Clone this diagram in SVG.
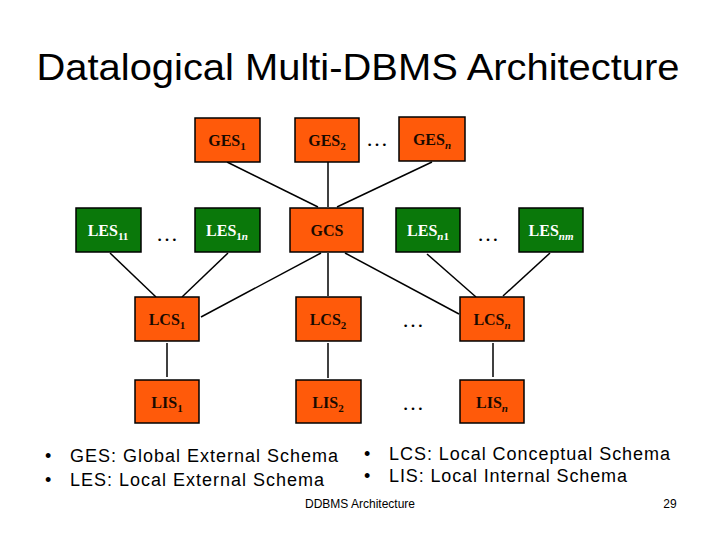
<svg xmlns="http://www.w3.org/2000/svg" width="720" height="540" viewBox="0 0 720 540">
<style>
.o{fill:#ff5a0a;stroke:#000;stroke-width:1.5}
.g{fill:#0a780a;stroke:#000;stroke-width:1.5}
.t{font-family:"Liberation Serif",serif;font-weight:bold;font-size:16px;text-anchor:middle}
.tk{fill:#1a0a00}
.tw{fill:#fff}
.d{font-family:"Liberation Serif",serif;font-size:22px;text-anchor:middle}
.s{font-size:11px}
.it{font-style:italic}
#c line{stroke:#000;stroke-width:1.5}
.b{font-family:"Liberation Sans",Arial,sans-serif;font-size:18px}
</style>
<rect width="720" height="540" fill="#fff"/>
<text x="358" y="80" font-family="Liberation Sans,Arial,sans-serif" font-size="36" text-anchor="middle" textLength="643" lengthAdjust="spacingAndGlyphs">Datalogical Multi-DBMS Architecture</text>
<g id="c">
<line x1="227" y1="162" x2="318" y2="207"/>
<line x1="328" y1="162" x2="328" y2="207"/>
<line x1="432" y1="162" x2="337" y2="207"/>
<line x1="110" y1="253" x2="156" y2="297"/>
<line x1="228" y1="253" x2="182" y2="297"/>
<line x1="321" y1="253" x2="201" y2="317"/>
<line x1="328" y1="253" x2="328" y2="296"/>
<line x1="345" y1="253" x2="459" y2="314"/>
<line x1="427" y1="254" x2="476" y2="297"/>
<line x1="550" y1="253" x2="503" y2="296"/>
<line x1="167" y1="343" x2="167" y2="377"/>
<line x1="328" y1="343" x2="328" y2="378"/>
<line x1="493" y1="343" x2="493" y2="377"/>
</g>
<g id="GES1"><rect class="o" x="195" y="118" width="65" height="44"/><text class="t tk" x="227" y="146">GES<tspan class="s" dy="4">1</tspan></text></g>
<g id="GES2"><rect class="o" x="295" y="118" width="64" height="44"/><text class="t tk" x="327" y="146">GES<tspan class="s" dy="4">2</tspan></text></g>
<text class="d" x="377" y="146">…</text>
<g id="GESn"><rect class="o" x="399" y="117" width="66" height="44"/><text class="t tk" x="432" y="145">GES<tspan class="s it" dy="4">n</tspan></text></g>
<g id="LES11"><rect class="g" x="76" y="208" width="65" height="44"/><text class="t tw" x="108" y="236">LES<tspan class="s" dy="4">11</tspan></text></g>
<text class="d" x="167" y="241">…</text>
<g id="LES1n"><rect class="g" x="195" y="208" width="65" height="44"/><text class="t tw" x="227" y="236">LES<tspan class="s" dy="4">1<tspan class="it">n</tspan></tspan></text></g>
<g id="GCS"><rect class="o" x="290" y="208" width="73" height="44"/><text class="t tk" x="327" y="236">GCS</text></g>
<g id="LESn1"><rect class="g" x="396" y="208" width="64" height="44"/><text class="t tw" x="428" y="236">LES<tspan class="s" dy="4"><tspan class="it">n</tspan>1</tspan></text></g>
<text class="d" x="488" y="241">…</text>
<g id="LESnm"><rect class="g" x="519" y="208" width="64" height="44"/><text class="t tw" x="551" y="236">LES<tspan class="s it" dy="4">nm</tspan></text></g>
<g id="LCS1"><rect class="o" x="135" y="297" width="64" height="44"/><text class="t tk" x="167" y="325">LCS<tspan class="s" dy="4">1</tspan></text></g>
<g id="LCS2"><rect class="o" x="296" y="297" width="65" height="44"/><text class="t tk" x="328" y="325">LCS<tspan class="s" dy="4">2</tspan></text></g>
<text class="d" x="413" y="327">…</text>
<g id="LCSn"><rect class="o" x="460" y="297" width="64" height="44"/><text class="t tk" x="492" y="325">LCS<tspan class="s it" dy="4">n</tspan></text></g>
<g id="LIS1"><rect class="o" x="135" y="380" width="64" height="43"/><text class="t tk" x="167" y="408">LIS<tspan class="s" dy="4">1</tspan></text></g>
<g id="LIS2"><rect class="o" x="296" y="380" width="65" height="43"/><text class="t tk" x="328" y="408">LIS<tspan class="s" dy="4">2</tspan></text></g>
<text class="d" x="413" y="410">…</text>
<g id="LISn"><rect class="o" x="460" y="380" width="64" height="43"/><text class="t tk" x="492" y="408">LIS<tspan class="s it" dy="4">n</tspan></text></g>
<text class="b" x="45" y="462">•</text><text class="b" x="70" y="462" textLength="268" lengthAdjust="spacing">GES: Global External Schema</text>
<text class="b" x="45" y="486">•</text><text class="b" x="70" y="486" textLength="254" lengthAdjust="spacing">LES: Local External Schema</text>
<text class="b" x="364" y="460">•</text><text class="b" x="389" y="460" textLength="281" lengthAdjust="spacing">LCS: Local Conceptual Schema</text>
<text class="b" x="364" y="482">•</text><text class="b" x="389" y="482" textLength="238" lengthAdjust="spacing">LIS: Local Internal Schema</text>
<text x="360" y="508" font-family="Liberation Sans,Arial,sans-serif" font-size="12" text-anchor="middle">DDBMS Architecture</text>
<text x="670" y="508" font-family="Liberation Sans,Arial,sans-serif" font-size="12" text-anchor="middle">29</text>
</svg>
